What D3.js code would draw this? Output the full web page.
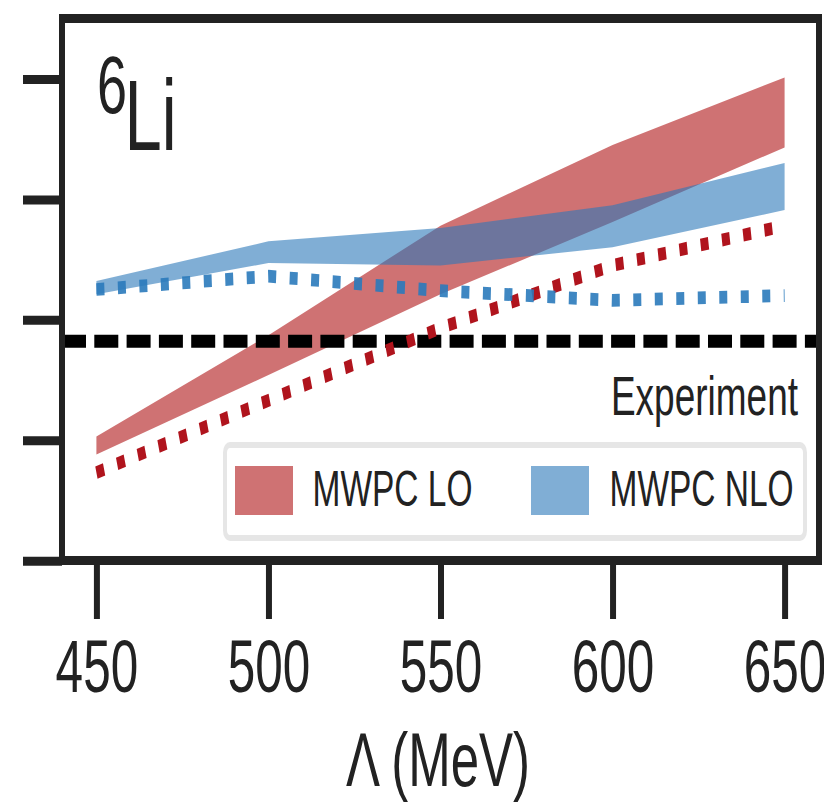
<!DOCTYPE html>
<html>
<head>
<meta charset="utf-8">
<script src="https://cdn.jsdelivr.net/npm/d3@7"></script>
<style>
  html, body { margin: 0; padding: 0; background: #ffffff; }
  svg { display: block; }
  text { font-family: 'Liberation Sans', Arial, Helvetica, sans-serif; fill: #222222; }
</style>
</head>
<body>
<div id="chart"></div>
<script>
// ---- data (y axis is unlabelled, arbitrary units) ----
const lambdas      = [450, 500, 550, 600, 650];
const loUpper      = [1.03, 1.87, 2.78, 3.45, 4.01];
const loLower      = [0.88, 1.54, 2.21, 2.81, 3.43];
const nloUpper     = [2.32, 2.65, 2.76, 2.95, 3.30];
const nloLower     = [2.21, 2.47, 2.45, 2.60, 2.91];
const loDotted     = [0.73, 1.33, 1.93, 2.45, 2.78];
const nloDotted    = [2.25, 2.36, 2.24, 2.16, 2.20];
const experiment   = 1.82;
const xTicks       = [450, 500, 550, 600, 650];
const yTicks       = [0, 1, 2, 3, 4];
const legendLabels = ["MWPC LO", "MWPC NLO"];

// ---- layout ----
const W = 824, H = 803;
const S = 1.5;               // vertical stretch of the whole figure

const svg = d3.select("#chart").append("svg")
  .attr("width", W).attr("height", H);
svg.append("rect").attr("width", W).attr("height", H).attr("fill", "#ffffff");

const g = svg.append("g").attr("transform", `scale(1,${S})`);

const x = d3.scaleLinear().domain([440, 660]).range([62, 819]);
const y = d3.scaleLinear().domain([0, 4.5]).range([560.5 / S, 18.5 / S]);

const redFill = "rgb(175,20,22)";
const blueFill = "rgb(43,120,185)";
const bandAlpha = 0.6;

const band = (lo, hi) => d3.area()
  .x((d, i) => x(lambdas[i]))
  .y0((d, i) => y(lo[i]))
  .y1((d, i) => y(hi[i]))(lambdas);

// bands
g.append("path").attr("d", band(loLower, loUpper))
  .attr("fill", redFill).attr("fill-opacity", bandAlpha);
g.append("path").attr("d", band(nloLower, nloUpper))
  .attr("fill", blueFill).attr("fill-opacity", bandAlpha);

// experiment dashed line
g.append("line")
  .attr("x1", x(440)).attr("x2", x(660))
  .attr("y1", y(experiment)).attr("y2", y(experiment))
  .attr("stroke", "#000000").attr("stroke-width", 8.7)
  .attr("stroke-dasharray", "24,8.3");

// dotted lines
const line = vals => d3.line()
  .x((d, i) => x(lambdas[i]))
  .y((d, i) => y(vals[i]))(lambdas);

g.append("path").attr("d", line(loDotted))
  .attr("fill", "none").attr("stroke", "#b0141d")
  .attr("stroke-width", 8.5).attr("stroke-dasharray", "8,13.5");
g.append("path").attr("d", line(nloDotted))
  .attr("fill", "none").attr("stroke", "#2a7abb").attr("stroke-opacity", 0.9)
  .attr("stroke-width", 8.5).attr("stroke-dasharray", "8,13.5");

// Experiment label
g.append("text")
  .attr("x", 798).attr("y", 415 / S)
  .attr("text-anchor", "end")
  .attr("font-size", 37)
  .text("Experiment");

// 6Li label
const lab = g.append("g");
lab.append("text").attr("x", 97).attr("y", 113.5 / S).attr("font-size", 54).text("6");
lab.append("text").attr("x", 124.5).attr("y", 150 / S).attr("font-size", 67).text("Li");

// legend
const lg = g.append("g");
lg.append("rect")
  .attr("x", 225).attr("y", 445 / S)
  .attr("width", 580).attr("height", (538 - 445) / S)
  .attr("rx", 5).attr("ry", 5)
  .attr("fill", "#ffffff").attr("stroke", "#e6e6e6").attr("stroke-width", 4);
const legendFills = [redFill, blueFill];
const patchX = [235, 531];
const textX = [312.5, 609.5];
legendLabels.forEach((lbl, i) => {
  lg.append("rect")
    .attr("x", patchX[i]).attr("y", 466 / S)
    .attr("width", 58).attr("height", (515 - 466) / S)
    .attr("fill", legendFills[i]).attr("fill-opacity", bandAlpha);
  lg.append("text")
    .attr("x", textX[i]).attr("y", 506 / S)
    .attr("font-size", 33.5)
    .text(lbl);
});

// axes
const xAxis = g.append("g")
  .attr("transform", `translate(0,${y(0)})`)
  .call(d3.axisBottom(x).tickValues(xTicks).tickSize(39).tickFormat(d3.format("d")));
xAxis.select(".domain").remove();
xAxis.selectAll(".tick line").attr("stroke", "#222222").attr("stroke-width", 6);
xAxis.selectAll(".tick text")
  .attr("y", 87.6).attr("dy", 0)
  .attr("font-size", 49.5)
  .attr("font-family", "'Liberation Sans', Arial, sans-serif")
  .attr("fill", "#222222");

const yAxis = g.append("g")
  .attr("transform", `translate(${x(440)},0)`)
  .call(d3.axisLeft(y).tickValues(yTicks).tickSize(39).tickFormat(""));
yAxis.select(".domain").remove();
yAxis.selectAll(".tick line").attr("stroke", "#222222").attr("stroke-width", 6);

// frame
g.append("rect")
  .attr("x", x(440)).attr("y", y(4.5))
  .attr("width", x(660) - x(440)).attr("height", y(0) - y(4.5))
  .attr("fill", "none").attr("stroke", "#222222").attr("stroke-width", 6);

// x-axis title
g.append("text")
  .attr("x", 438).attr("y", 786.5 / S)
  .attr("text-anchor", "middle")
  .attr("font-size", 51)
  .text("Λ (MeV)");
</script>
</body>
</html>
